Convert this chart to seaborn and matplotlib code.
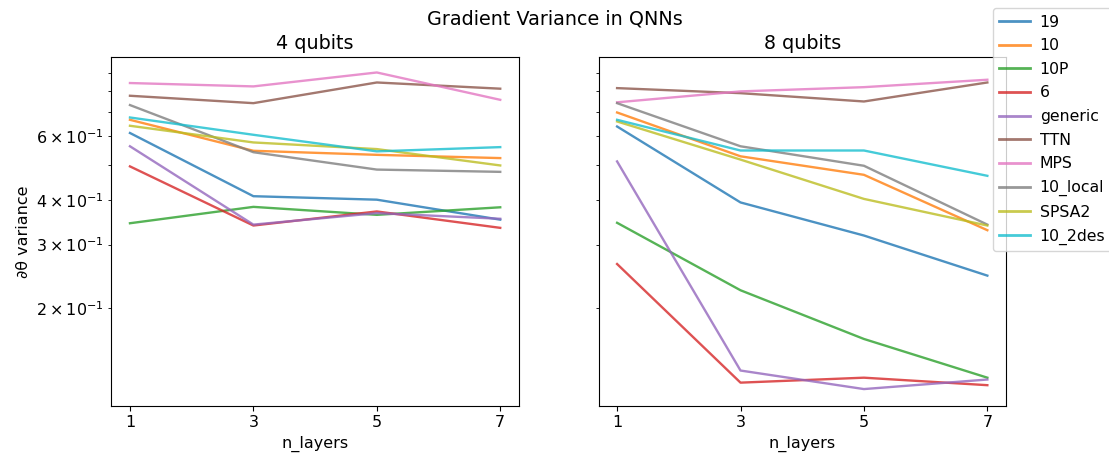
import pandas as pd
import matplotlib
matplotlib.use("Agg")
import matplotlib.pyplot as plt
import seaborn as sns

# Values
n_layers = [1, 3, 5, 7]
ansatze = ['19', '10', '10P', '6', 'generic', 'TTN', 'MPS', '10_local', 'SPSA2', '10_2des']

var_4q = {
    '19':       [0.613, 0.409, 0.400, 0.352],
    '10':       [0.667, 0.547, 0.533, 0.522],
    '10P':      [0.344, 0.382, 0.363, 0.381],
    '6':        [0.495, 0.339, 0.371, 0.334],
    'generic':  [0.563, 0.341, 0.367, 0.354],
    'TTN':      [0.778, 0.742, 0.847, 0.814],
    'MPS':      [0.844, 0.826, 0.903, 0.758],
    '10_local': [0.733, 0.542, 0.485, 0.478],
    'SPSA2':    [0.642, 0.577, 0.553, 0.498],
    '10_2des':  [0.677, 0.606, 0.545, 0.560],
}

var_8q = {
    '19':       [0.639, 0.393, 0.318, 0.246],
    '10':       [0.699, 0.528, 0.469, 0.329],
    '10P':      [0.345, 0.224, 0.164, 0.128],
    '6':        [0.265, 0.124, 0.128, 0.122],
    'generic':  [0.511, 0.134, 0.119, 0.1265],
    'TTN':      [0.817, 0.791, 0.750, 0.847],
    'MPS':      [0.746, 0.800, 0.822, 0.862],
    '10_local': [0.742, 0.563, 0.497, 0.341],
    'SPSA2':    [0.660, 0.517, 0.402, 0.339],
    '10_2des':  [0.667, 0.548, 0.548, 0.466],
}


def to_long(d):
    rows = []
    for name in ansatze:
        for n, v in zip(n_layers, d[name]):
            rows.append({'n_layers': n, 'variance': v, 'ansatz': name})
    return pd.DataFrame(rows)


plt.rcParams['font.size'] = 11.5

palette = dict(zip(ansatze, sns.color_palette('tab10', len(ansatze))))

fig, axes = plt.subplots(1, 2, figsize=(11.09, 4.61), dpi=100, sharey=True)
fig.subplots_adjust(left=0.1005, right=0.907, top=0.876, bottom=0.12, wspace=0.196)

for ax, d, title in zip(axes, [var_4q, var_8q], ['4 qubits', '8 qubits']):
    sns.lineplot(data=to_long(d), x='n_layers', y='variance', hue='ansatz',
                 hue_order=ansatze, palette=palette, alpha=0.8, lw=1.7,
                 ax=ax, legend=False)
    ax.set_yscale('log')
    ax.set_title(title, fontsize=13.8)
    ax.set_xlabel('n_layers')
    ax.set_ylabel('∂θ variance')
    ax.set_xticks(n_layers)

axes[0].set_ylim(0.107, 0.996)
axes[1].tick_params(labelleft=False)

# legend sits outside the axes on the right, like the original
handles = [plt.Line2D([], [], color=palette[a], alpha=0.8, lw=2) for a in ansatze]
fig.legend(handles, ansatze, loc='upper left', bbox_to_anchor=(0.8951, 0.982),
           borderaxespad=0, fontsize=11.3, labelspacing=0.55, handletextpad=0.6)
fig.suptitle('Gradient Variance in QNNs', fontsize=13.8, y=0.98)

plt.savefig('out.png')
